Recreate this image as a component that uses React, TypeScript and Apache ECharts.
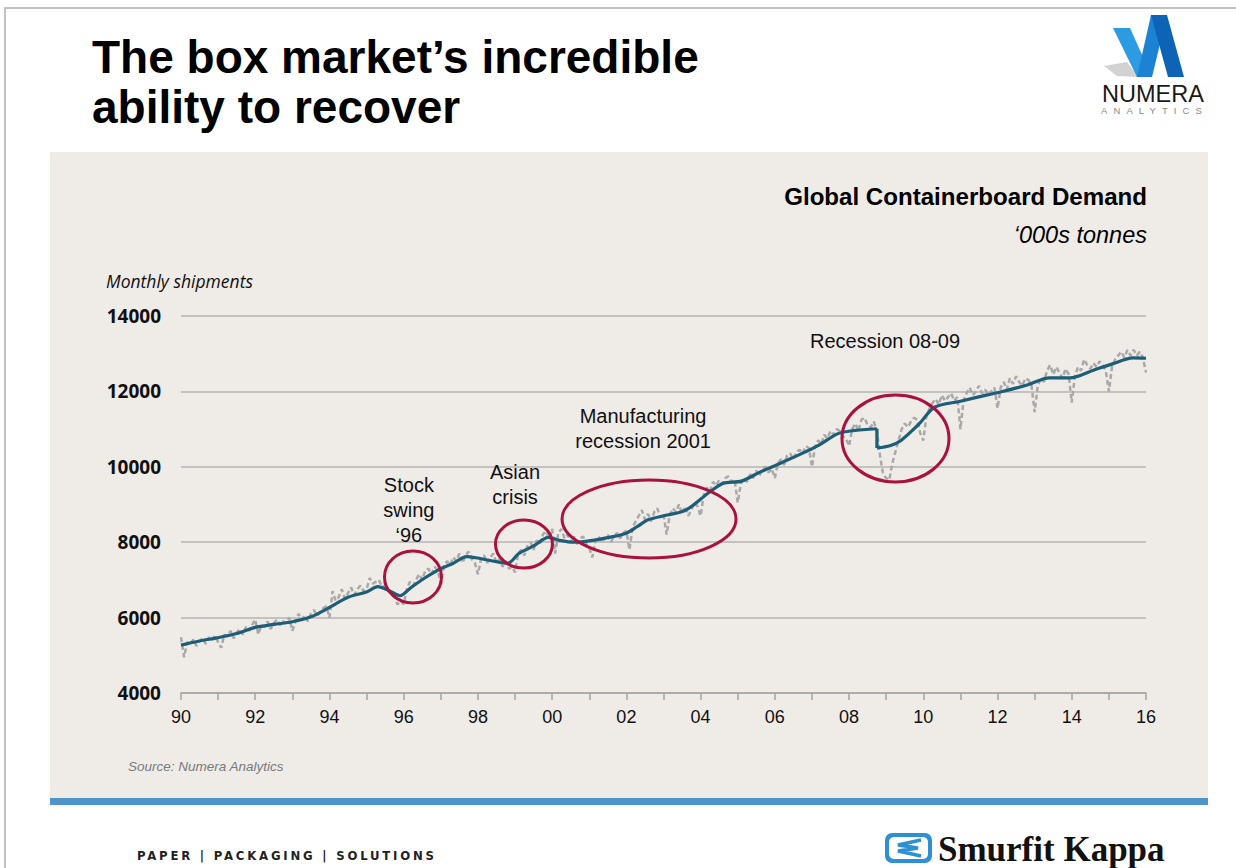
import React, { useEffect, useRef } from "react";
import * as echarts from "echarts";

// ---- data ----
const startYear = 1990;
// Monthly shipments ('000s tonnes), Jan 1990 .. Jan 2016
const monthlyShipments = [
  5480, 4950, 5350, 5300, 5420, 5250, 5380, 5450, 5300, 5480, 5400, 5520,
  5350, 5200, 5550, 5500, 5650, 5450, 5600, 5700, 5550, 5750, 5650, 5800,
  5950, 5550, 5800, 5750, 5900, 5700, 5850, 5950, 5800, 5900, 5850, 6000,
  5650, 5900, 6100, 5950, 6050, 5900, 6100, 6200, 6050, 6150, 6250, 6300,
  6000, 6700, 6450, 6550, 6750, 6500, 6650, 6800, 6600, 6750, 6850, 6700,
  6750, 7050, 6900, 6950, 7000, 6800, 6850, 6700, 6650, 6550, 6350, 6450,
  6350, 6750, 6950, 6850, 7000, 7150, 7000, 7250, 7300, 7150, 7350, 7250,
  6900, 7350, 7500, 7400, 7600, 7500, 7700, 7450, 7650, 7750, 7550, 7450,
  7150, 7550, 7650, 7450, 7600, 7700, 7450, 7550, 7350, 7500, 7300, 7350,
  7200, 7700, 7800, 7650, 7900, 8000, 7800, 8050, 7950, 8200, 8300, 8100,
  8350, 7700, 8250, 8350, 8100, 8200, 8000, 8150, 7950, 8100, 8150, 7950,
  7850, 7600, 8050, 8150, 8000, 8100, 8200, 8000, 8150, 8250, 8100, 8250,
  8300, 7800, 8400, 8550, 8700, 8850, 8600, 8750, 8550, 8800, 8900, 8650,
  8750, 8200, 8700, 8900, 8800, 9000, 8750, 8950, 8700, 8850, 9050, 8950,
  8700, 9250, 9450, 9350, 9600, 9500, 9650, 9550, 9700, 9750, 9600, 9650,
  9050, 9550, 9700, 9600, 9800, 9700, 9900, 9750, 9950, 10000, 9850, 9950,
  9700, 10100, 10200, 10050, 10300, 10350, 10200, 10400, 10450, 10350, 10550, 10500,
  10000, 10550, 10700, 10600, 10850, 10750, 10950, 10850, 11000, 10950, 10800, 10750,
  10550, 11000, 11150, 10950, 11250, 11300, 11100, 11050, 11200, 10950, 10300, 9800,
  9700, 9650, 10100, 10400, 10700, 11000, 11150, 11050, 11200, 11300, 11250, 10900,
  10700, 11350, 11550, 11700, 11800, 11650, 11900, 11750, 11850, 11950, 11750, 11850,
  11000, 11750, 11950, 12100, 11900, 12000, 12150, 11950, 12050, 11900, 12000, 12100,
  11550, 12100, 12250, 12050, 12350, 12200, 12400, 12250, 12150, 12350, 12300, 12150,
  11450, 12150, 12350, 12250, 12550, 12700, 12450, 12650, 12500, 12350, 12600, 12450,
  11700, 12400, 12650, 12550, 12850, 12700, 12600, 12750, 12650, 12800, 12700, 12550,
  12000, 12650, 12850, 12950, 13050, 12900, 13100, 12950, 13100, 12950, 13050, 12900,
  12500,
];

// Smoothed trend before the 2008 break
const trendPreYears = [
  1990.0, 1990.5, 1991.0, 1991.5, 1992.0, 1992.5, 1993.0, 1993.5, 1994.0, 1994.5,
  1995.0, 1995.3, 1995.6, 1995.9, 1996.2, 1996.6, 1997.0, 1997.3, 1997.7, 1998.0,
  1998.3, 1998.8, 1999.1, 1999.5, 1999.9, 2000.2, 2000.6, 2001.1, 2001.5, 2002.0,
  2002.3, 2002.6, 2003.1, 2003.6, 2004.2, 2004.6, 2005.1, 2005.6, 2006.0, 2006.5,
  2007.0, 2007.2, 2007.7, 2008.1, 2008.75,
];
const trendPreValues = [
  5270, 5380, 5470, 5580, 5740, 5820, 5890, 6020, 6270, 6540,
  6680, 6820, 6720, 6580, 6800, 7070, 7300, 7420, 7620, 7580,
  7520, 7440, 7700, 7900, 8130, 8050, 8000, 8050, 8120, 8240,
  8420, 8600, 8720, 8850, 9300, 9560, 9620, 9860, 10030, 10250,
  10480, 10580, 10880, 10960, 11010,
];
// Smoothed trend after the 2008 break
const trendPostYears = [
  2008.75, 2009.1, 2009.4, 2009.9, 2010.3, 2011.0, 2011.7, 2012.1, 2012.8, 2013.4,
  2013.95, 2014.6, 2015.1, 2015.65, 2016.0,
];
const trendPostValues = [
  10500, 10560, 10700, 11150, 11580, 11740, 11900, 11990, 12170, 12360,
  12360, 12570, 12730, 12890, 12880,
];

const yMin = 4000;
const yMax = 14000;
const yStep = 2000;
const xMin = 1990;
const xMax = 2016;

// annotations
const annotationLabels = ["Stock\nswing\n‘96", "Asian\ncrisis", "Manufacturing\nrecession 2001", "Recession 08-09"];
const annotationTextAt = [[1996.14, 8854], [1999.0, 9531], [2002.45, 11016], [2008.97, 13337]];
const annotationEllipseAt = [[1996.25, 7077], [1999.24, 7952], [2002.61, 8615], [2009.25, 10750]];
const annotationRadii = [[28.5, 26], [28.5, 24], [87, 39], [53.5, 43.5]];

const SANS = '"Liberation Sans", Arial, Helvetica, sans-serif';
const TREND_STYLE = { color: "#1c5d77", width: 3.2 };

export default function App() {
  const ref = useRef<HTMLDivElement>(null);

  useEffect(() => {
    if (!ref.current) return;
    const chart = echarts.init(ref.current, null, { renderer: "svg" });
    const pre = trendPreYears.map((y, i) => [y, trendPreValues[i]]);
    const post = trendPostYears.map((y, i) => [y, trendPostValues[i]]);
    const option: any = {
      animation: false,
      backgroundColor: "transparent",
      grid: { left: 181, right: 90, top: 316, bottom: 175, containLabel: false },
      xAxis: {
        type: "value",
        min: xMin,
        max: xMax,
        interval: 1,
        axisLine: { show: true, lineStyle: { color: "#a4a4a4", width: 1.5 } },
        axisTick: { show: true, length: 7, lineStyle: { color: "#a4a4a4", width: 1.5 } },
        splitLine: { show: false },
        axisLabel: {
          margin: 15,
          fontSize: 18,
          fontFamily: SANS,
          color: "#111",
          formatter: (v: number) => (Math.round(v) % 2 === 0 ? String(Math.round(v) % 100).padStart(2, "0") : ""),
        },
      },
      yAxis: {
        type: "value",
        min: yMin,
        max: yMax,
        interval: yStep,
        axisLine: { show: false },
        axisTick: { show: false },
        splitLine: { show: true, lineStyle: { color: "#b5b5b5", width: 1.5 } },
        axisLabel: {
          margin: 20,
          fontSize: 19,
          fontWeight: "bold",
          fontFamily: '"Open Sans", sans-serif',
          color: "#111",
          formatter: (v: number) => String(v),
        },
      },
      series: [
        {
          name: "Monthly",
          type: "line",
          silent: true,
          showSymbol: false,
          data: monthlyShipments.map((v, i) => [startYear + i / 12, v]),
          lineStyle: { color: "#a9a9a9", width: 2.5, type: [5, 3] },
          z: 2,
        },
        {
          name: "Trend",
          type: "line",
          silent: true,
          showSymbol: false,
          smooth: 0.3,
          data: pre,
          lineStyle: TREND_STYLE,
          z: 3,
        },
        {
          name: "Trend break",
          type: "line",
          silent: true,
          showSymbol: false,
          data: [pre[pre.length - 1], post[0]],
          lineStyle: TREND_STYLE,
          z: 3,
        },
        {
          name: "Trend recovery",
          type: "line",
          silent: true,
          showSymbol: false,
          smooth: 0.3,
          data: post,
          lineStyle: TREND_STYLE,
          z: 3,
        },
      ],
    };
    chart.setOption(option);

    const px = (x: number, y: number) => chart.convertToPixel({ gridIndex: 0 } as any, [x, y]) as number[];

    const elements: any[] = [
      {
        type: "text",
        x: 92,
        y: 32,
        style: {
          text: "The box market’s incredible\nability to recover",
          fontSize: 46,
          fontWeight: "bold",
          fontFamily: SANS,
          fill: "#000",
          lineHeight: 50,
          textVerticalAlign: "top",
        },
      },
      {
        type: "text",
        x: 1147,
        y: 196,
        style: {
          text: "Global Containerboard Demand",
          fontSize: 24.1,
          fontWeight: "bold",
          fontFamily: SANS,
          fill: "#000",
          textAlign: "right",
          textVerticalAlign: "middle",
        },
      },
      {
        type: "text",
        x: 1147,
        y: 235,
        style: {
          text: "‘000s tonnes",
          fontSize: 23.5,
          fontStyle: "italic",
          fontFamily: SANS,
          fill: "#000",
          textAlign: "right",
          textVerticalAlign: "middle",
        },
      },
      {
        type: "text",
        x: 106,
        y: 281,
        style: {
          text: "Monthly shipments",
          fontSize: 17.5,
          fontStyle: "italic",
          fontFamily: '"Open Sans", sans-serif',
          fill: "#111",
          textVerticalAlign: "middle",
        },
      },
      {
        type: "text",
        x: 128,
        y: 766,
        style: {
          text: "Source: Numera Analytics",
          fontSize: 13.5,
          fontStyle: "italic",
          fontFamily: SANS,
          fill: "#7a7a7a",
          textVerticalAlign: "middle",
        },
      },
      // Numera logo
      {
        type: "polygon",
        shape: { points: [[1104, 66], [1127, 62], [1138, 77], [1117, 76]] },
        style: { fill: "#d2d2d2" },
      },
      {
        type: "polygon",
        shape: { points: [[1113, 28], [1130, 28], [1152, 77], [1137, 77]] },
        style: { fill: "#2d9be2" },
      },
      {
        type: "polygon",
        shape: { points: [[1137, 77], [1151, 15], [1167, 15], [1152, 77]] },
        style: { fill: "#1b82d4" },
      },
      {
        type: "polygon",
        shape: { points: [[1151, 15], [1167, 15], [1184, 77], [1168, 77]] },
        style: { fill: "#0d64b6" },
      },
      {
        type: "text",
        x: 1153,
        y: 94,
        style: {
          text: "NUMERA",
          fontSize: 23.5,
          fontFamily: SANS,
          fill: "#1a1a1a",
          textAlign: "center",
          textVerticalAlign: "middle",
        },
      },
      // Smurfit Kappa logo
      {
        type: "rect",
        shape: { x: 885, y: 833, width: 47, height: 30, r: 7 },
        style: { fill: "#2e90d4" },
      },
      {
        type: "rect",
        shape: { x: 889, y: 837, width: 39, height: 22, r: 5 },
        style: { fill: "#ffffff" },
      },
      {
        type: "polyline",
        shape: { points: [[921, 840], [898, 845], [918, 848], [898, 851], [921, 856]] },
        style: { stroke: "#2e90d4", lineWidth: 3.5, fill: "none" },
      },
      {
        type: "text",
        x: 938,
        y: 849,
        style: {
          text: "Smurfit Kappa",
          fontSize: 35,
          fontWeight: "bold",
          fontFamily: '"Liberation Serif", "Times New Roman", serif',
          fill: "#111",
          textVerticalAlign: "middle",
        },
      },
    ];

    annotationLabels.forEach((label, i) => {
      const [tx, ty] = px(annotationTextAt[i][0], annotationTextAt[i][1]);
      const [ex, ey] = px(annotationEllipseAt[i][0], annotationEllipseAt[i][1]);
      elements.push({
        type: "ellipse",
        z: 50,
        shape: { cx: ex, cy: ey, rx: annotationRadii[i][0], ry: annotationRadii[i][1] },
        style: { fill: "none", stroke: "#a8123d", lineWidth: 3 },
      });
      elements.push({
        type: "text",
        z: 50,
        x: tx,
        y: ty,
        style: {
          text: label,
          fontSize: 20,
          fontFamily: SANS,
          fill: "#111",
          lineHeight: 25,
          textAlign: "center",
          textVerticalAlign: "middle",
        },
      });
    });

    chart.setOption({ graphic: { elements } });
    return () => chart.dispose();
  }, []);

  return (
    <div style={{ position: "absolute", left: 0, top: 0, width: 1236, height: 868, background: "#fff", overflow: "hidden" }}>
      <div style={{ position: "absolute", left: 5, top: 7, width: 1231, height: 2, background: "#c2c2c2" }} />
      <div style={{ position: "absolute", left: 4, top: 7, width: 2, height: 861, background: "#c2c2c2" }} />
      <div style={{ position: "absolute", left: 50, top: 152, width: 1158, height: 646, background: "#efebe7" }} />
      <div style={{ position: "absolute", left: 50, top: 798, width: 1158, height: 7, background: "#4f95c9" }} />
      <div
        style={{
          position: "absolute",
          left: 1101,
          top: 105,
          fontFamily: SANS,
          fontSize: 9.5,
          letterSpacing: 6.1,
          color: "#8a8a8a",
          whiteSpace: "nowrap",
        }}
      >
        ANALYTICS
      </div>
      <div
        style={{
          position: "absolute",
          left: 137,
          top: 848,
          fontFamily: '"DejaVu Sans Condensed", "DejaVu Sans", sans-serif',
          fontWeight: "bold",
          fontSize: 13,
          letterSpacing: 2.8,
          color: "#222",
          whiteSpace: "nowrap",
        }}
      >
        PAPER | PACKAGING | SOLUTIONS
      </div>
      <div ref={ref} style={{ position: "absolute", left: 0, top: 0, width: 1236, height: 868 }} />
    </div>
  );
}
